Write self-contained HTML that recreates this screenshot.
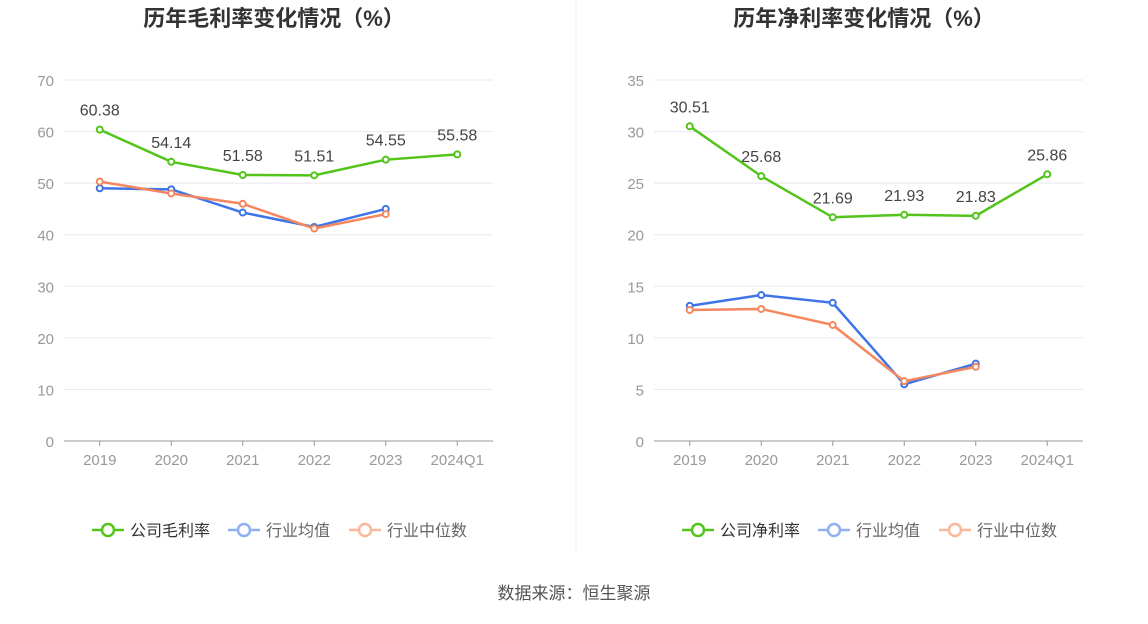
<!DOCTYPE html>
<html><head><meta charset="utf-8">
<style>
body{margin:0;background:#fff;width:1148px;height:619px;overflow:hidden;font-family:"Liberation Sans","Noto Sans CJK SC",sans-serif;}
svg text{font-family:"Liberation Sans","Noto Sans CJK SC",sans-serif;}
</style></head>
<body>
<svg id="svg" width="1148" height="619">
<line x1="576" y1="0" x2="576" y2="550" stroke="#eeeeee"/>
<text x="1000" y="0"></text>
<text x="574" y="599" text-anchor="middle" font-size="17" fill="#555">数据来源：恒生聚源</text>
</svg>
<script>
const categories=["2019","2020","2021","2022","2023","2024Q1"];
const grossCompany=[60.38,54.14,51.58,51.51,54.55,55.58];
const grossAvg=[49.0,48.8,44.3,41.5,45.0];
const grossMedian=[50.3,48.0,46.0,41.2,44.0];
const netCompany=[30.51,25.68,21.69,21.93,21.83,25.86];
const netAvg=[13.1,14.15,13.4,5.5,7.5];
const netMedian=[12.7,12.8,11.25,5.8,7.2];
const grossTicks=[0,10,20,30,40,50,60,70];
const netTicks=[0,5,10,15,20,25,30,35];
const NS="http://www.w3.org/2000/svg";
const svg=document.getElementById('svg');
function mk(tag,attrs,parent){const e=document.createElementNS(NS,tag);for(const k in attrs)e.setAttribute(k,attrs[k]);(parent||svg).appendChild(e);return e;}
const colors={c:"#52c41a",a:"#3e74e8",m:"#f5875f"};
function chart(ox,title,ticks,max,comp,avg,med,compName,prefix){
  const g=mk('g',{});
  
  
  const x0=ox+64,x1=ox+493,yb=441,yt=80;
  const xs=i=>x0+(x1-x0)/6*(i+0.5);
  const ys=v=>yb-(yb-yt)*v/max;
  const t=mk('text',{x:ox+274,y:26,'text-anchor':'middle','font-size':22,'font-weight':'bold',fill:'#333'},g);
  t.textContent=title;
  
  
  ticks.forEach(v=>{
    if(v>0){const l=mk('line',{x1:x0,x2:x1,y1:ys(v),y2:ys(v),stroke:'#e6e8f0'},g);
    
    }
    const tx=mk('text',{x:ox+54,y:ys(v)+6,'text-anchor':'end','font-size':15,fill:'#999'},g);
    tx.textContent=v;
    
    
  });
  const ax=mk('line',{x1:x0,x2:x1,y1:yb,y2:yb,stroke:'#999'},g);
  
  
  categories.forEach((c,i)=>{
    mk('line',{x1:xs(i),x2:xs(i),y1:yb,y2:yb+5,stroke:'#999'},g);
    const tx=mk('text',{x:xs(i),y:465,'text-anchor':'middle','font-size':15,fill:'#999'},g);
    tx.textContent=c;
    
    
  });
  function series(d,col,name,labels){
    const p=mk('polyline',{points:d.map((v,i)=>xs(i)+','+ys(v)).join(' '),fill:'none',stroke:col,'stroke-width':2.5},g);
    
    
    d.forEach((v,i)=>{
      const c=mk('circle',{cx:xs(i),cy:ys(v),r:3,fill:'#fff',stroke:col,'stroke-width':2},g);
      
      
      if(labels){const tx=mk('text',{x:xs(i),y:ys(v)-14,'text-anchor':'middle','font-size':16,fill:'#444'},g);
      tx.textContent=v.toFixed(2);
      
      }
    });
  }
  series(avg,colors.a,'avg',false);
  series(med,colors.m,'median',false);
  series(comp,colors.c,'company',true);
  const leg=[[compName,colors.c,'#333'],["行业均值","#8fb0f2",'#666'],["行业中位数","#f9b79c",'#666']];
  const lx=[ox+92,ox+228,ox+349];
  leg.forEach((l,i)=>{
    const lg=mk('g',{},g);
    
    
    mk('line',{x1:lx[i],x2:lx[i]+32,y1:530,y2:530,stroke:l[1],'stroke-width':2.5},lg);
    mk('circle',{cx:lx[i]+16,cy:530,r:6,fill:'#fff',stroke:l[1],'stroke-width':2.5},lg);
    const tx=mk('text',{x:lx[i]+38,y:536,'font-size':16,fill:l[2]},lg);
    tx.textContent=l[0];
  });
}
chart(0,"历年毛利率变化情况（%）",grossTicks,70,grossCompany,grossAvg,grossMedian,"公司毛利率","gross");
chart(590,"历年净利率变化情况（%）",netTicks,35,netCompany,netAvg,netMedian,"公司净利率","net");
</script>
</body></html>
